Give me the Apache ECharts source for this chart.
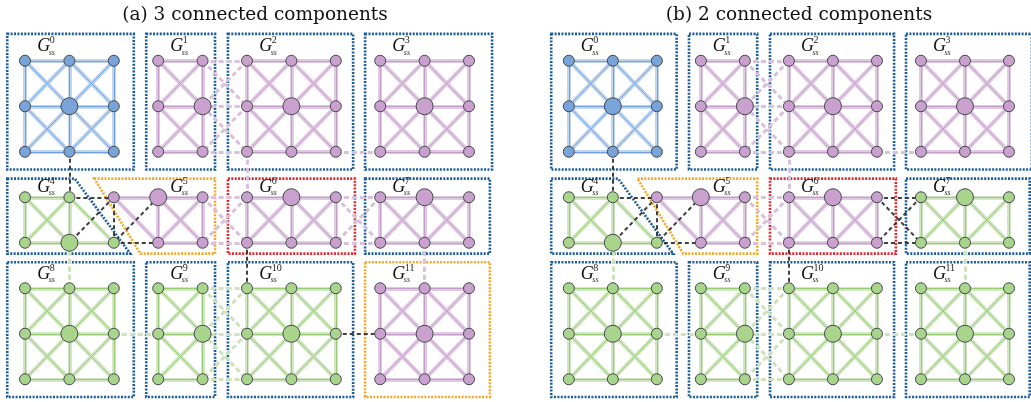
<!DOCTYPE html>
<html lang="en">
<head>
<meta charset="UTF-8">
<title>connected components</title>
<script src="https://cdn.jsdelivr.net/npm/echarts@6/dist/echarts.min.js"></script>
<style>
  html, body { margin: 0; padding: 0; background: #fff; }
  #box { width: 1031px; height: 402px; }
</style>
</head>
<body>
<div id="box"></div>
<script>
// panel titles
var titles = ['(a) 3 connected components', '(b) 2 connected components'];

// subgraph G_ss^k that each grid node belongs to (8 rows, 11 columns)
var membership = [
  [0, 0, 0, 1, 1, 2, 2, 2, 3, 3, 3],
  [0, 0, 0, 1, 1, 2, 2, 2, 3, 3, 3],
  [0, 0, 0, 1, 1, 2, 2, 2, 3, 3, 3],
  [4, 4, 5, 5, 5, 6, 6, 6, 7, 7, 7],
  [4, 4, 4, 5, 5, 6, 6, 6, 7, 7, 7],
  [8, 8, 8, 9, 9, 10, 10, 10, 11, 11, 11],
  [8, 8, 8, 9, 9, 10, 10, 10, 11, 11, 11],
  [8, 8, 8, 9, 9, 10, 10, 10, 11, 11, 11]
];

// colour group (connected component) of each subgraph, per panel
var componentsA = ['blue', 'purple', 'purple', 'purple', 'green', 'purple', 'purple', 'purple', 'green', 'green', 'green', 'purple'];
var componentsB = ['blue', 'purple', 'purple', 'purple', 'green', 'purple', 'purple', 'green', 'green', 'green', 'green', 'green'];

// frame colour of each subgraph box, per panel
var framesA = ['blue', 'blue', 'blue', 'blue', 'blue', 'orange', 'red', 'blue', 'blue', 'blue', 'blue', 'orange'];
var framesB = ['blue', 'blue', 'blue', 'blue', 'blue', 'orange', 'red', 'blue', 'blue', 'blue', 'blue', 'blue'];

// hub (large) node of each subgraph, [col, row]
var hubs = [[1, 1], [4, 1], [6, 1], [9, 1], [1, 4], [3, 3], [6, 3], [9, 3], [1, 6], [4, 6], [6, 6], [9, 6]];

// subgraph pairs linked along their whole border
var fullBridges = [[1, 2], [4, 5], [5, 6], [6, 7], [9, 10]];
// single links between subgraphs
var singleBridges = [
  [[7, 2], [8, 2]], [[2, 6], [3, 6]], [[7, 6], [8, 6]],
  [[1, 2], [1, 3]], [[5, 2], [5, 3]], [[1, 4], [1, 5]], [[5, 4], [5, 5]], [[9, 4], [9, 5]]
];

// label column / row of each subgraph
var labelCols = [0, 3, 5, 8, 0, 3, 5, 8, 0, 3, 5, 8];
var labelRows = [0, 0, 0, 0, 3, 3, 3, 3, 5, 5, 5, 5];

// ---- styles / layout ----
var palette = {
  blue:   { node: '#78a4d9', wide: '#c0d5ee', thin: '#74a2d8', dash: '#bcd0e8' },
  purple: { node: '#c9a0ce', wide: '#e0cae3', thin: '#c49dc9', dash: '#d9c0dc' },
  green:  { node: '#a8d48b', wide: '#d1e7c1', thin: '#96ca74', dash: '#cde2bd' }
};
var frameColor = { blue: '#1d5c99', orange: '#f4a82a', red: '#e4262f' };

var bandA = [-0.59, 2.39], bandB = [2.59, 4.24], bandC = [4.43, 7.39];
function rect(x0, x1, b) { return [[x0, b[0]], [x1, b[0]], [x1, b[1]], [x0, b[1]]]; }
var boxShapes = [
  rect(-0.4, 2.45, bandA), rect(2.73, 4.28, bandA), rect(4.57, 7.39, bandA), rect(7.66, 10.52, bandA),
  [[-0.4, bandB[0]], [1.12, bandB[0]], [2.37, bandB[1]], [-0.4, bandB[1]]],
  [[1.56, bandB[0]], [4.28, bandB[0]], [4.28, bandB[1]], [2.6, bandB[1]]],
  rect(4.57, 7.43, bandB), rect(7.66, 10.47, bandB),
  rect(-0.4, 2.45, bandC), rect(2.73, 4.28, bandC), rect(4.57, 7.39, bandC), rect(7.66, 10.47, bandC)
];

var COLS = 11, ROWS = 8;
var PANEL_SHIFT = 544;

function isHub(c, r) {
  return hubs.some(function (h) { return h[0] === c && h[1] === r; });
}

function buildPanel(p, comps, frames) {
  var nodes = [], bgNodes = [];
  for (var r = 0; r < ROWS; r++) {
    for (var c = 0; c < COLS; c++) {
      var col = palette[comps[membership[r][c]]];
      nodes.push({
        name: p + '-' + r + '-' + c,
        value: [c, r],
        symbolSize: isHub(c, r) ? 17 : 11,
        itemStyle: { color: col.node, borderColor: '#44484e', borderWidth: 1 }
      });
      bgNodes.push({ name: p + '-' + r + '-' + c, value: [c, r], symbolSize: 0 });
    }
  }
  function id(c, r) { return r * COLS + c; }

  var wideLinks = [], thinLinks = [];
  function addBridge(a, b) {
    var ca = comps[membership[a[1]][a[0]]], cb = comps[membership[b[1]][b[0]]];
    if (ca === cb) {
      wideLinks.push({ source: id(a[0], a[1]), target: id(b[0], b[1]),
        lineStyle: { color: palette[ca].dash, width: 3, type: [5, 3] } });
    } else {
      thinLinks.push({ source: id(a[0], a[1]), target: id(b[0], b[1]),
        lineStyle: { color: '#2a2a2a', width: 2, type: [4, 3], opacity: 0.9 } });
    }
  }
  var steps = [[1, 0], [0, 1], [1, 1], [-1, 1]];
  for (var r2 = 0; r2 < ROWS; r2++) {
    for (var c2 = 0; c2 < COLS; c2++) {
      steps.forEach(function (s) {
        var c3 = c2 + s[0], r3 = r2 + s[1];
        if (c3 < 0 || c3 >= COLS || r3 >= ROWS) return;
        var m1 = membership[r2][c2], m2 = membership[r3][c3];
        if (m1 === m2) {
          var col = palette[comps[m1]];
          wideLinks.push({ source: id(c2, r2), target: id(c3, r3), lineStyle: { color: col.wide, width: 4 } });
          thinLinks.push({ source: id(c2, r2), target: id(c3, r3), lineStyle: { color: col.thin, width: 1 } });
        } else {
          var joined = fullBridges.some(function (f) {
            return (f[0] === m1 && f[1] === m2) || (f[0] === m2 && f[1] === m1);
          });
          if (joined) addBridge([c2, r2], [c3, r3]);
        }
      });
    }
  }
  singleBridges.forEach(function (b) { addBridge(b[0], b[1]); });

  var series = [];
  series.push({
    type: 'custom', coordinateSystem: 'cartesian2d', xAxisIndex: p, yAxisIndex: p, z: 1,
    silent: true, clip: false,
    data: boxShapes.map(function (s, k) { return [k]; }),
    renderItem: function (params, api) {
      var k = api.value(0);
      var pts = boxShapes[k].map(function (q) { return api.coord(q); });
      return {
        type: 'polygon', shape: { points: pts },
        style: { fill: 'none', stroke: frameColor[frames[k]], lineWidth: 2.6, lineDash: [2, 1.4] }
      };
    }
  });
  series.push({
    type: 'graph', coordinateSystem: 'cartesian2d', xAxisIndex: p, yAxisIndex: p, z: 2,
    layout: 'none', silent: true, symbolSize: 0, data: bgNodes, links: wideLinks,
    label: { show: false }, lineStyle: { curveness: 0, opacity: 1 }
  });
  series.push({
    type: 'graph', coordinateSystem: 'cartesian2d', xAxisIndex: p, yAxisIndex: p, z: 3,
    layout: 'none', silent: true, data: nodes, links: thinLinks,
    label: { show: false }, lineStyle: { curveness: 0, opacity: 1 }
  });
  series.push({
    type: 'custom', coordinateSystem: 'cartesian2d', xAxisIndex: p, yAxisIndex: p, z: 4,
    silent: true, clip: false,
    data: labelCols.map(function (c, k) { return [c, labelRows[k], k]; }),
    renderItem: function (params, api) {
      var r = api.value(1), k = api.value(2);
      var dy = (r === 3) ? 0.22 : 0.31;
      var pt = api.coord([api.value(0) + 0.42, r - dy]);
      var serif = '"Liberation Serif", "DejaVu Serif", serif';
      return {
        type: 'group', children: [
          { type: 'text', x: pt[0], y: pt[1],
            style: { text: 'G', font: 'italic 18px ' + serif, fill: '#111', align: 'center', verticalAlign: 'middle' } },
          { type: 'text', x: pt[0] + 6, y: pt[1] - 6,
            style: { text: String(k), font: '10px ' + serif, fill: '#222', align: 'left', verticalAlign: 'middle' } },
          { type: 'text', x: pt[0] + 5, y: pt[1] + 6,
            style: { text: 'ss', font: 'italic 8px ' + serif, fill: '#333', align: 'left', verticalAlign: 'middle' } }
        ]
      };
    }
  });
  return series;
}

var chart = echarts.init(document.getElementById('box'));
var grids = [], xAxes = [], yAxes = [];
[0, 1].forEach(function (p) {
  grids.push({ left: 2.8 + p * PANEL_SHIFT, top: 38, width: 488.4, height: 368 });
  xAxes.push({ type: 'value', gridIndex: p, min: -0.5, max: 10.5, show: false });
  yAxes.push({ type: 'value', gridIndex: p, min: -0.5, max: 7.5, inverse: true, show: false });
});

var option = {
  backgroundColor: '#fff',
  animation: false,
  title: titles.map(function (t, p) {
    return {
      text: t, left: 250 + p * PANEL_SHIFT, top: 1, textAlign: 'center',
      textStyle: { fontFamily: 'DejaVu Serif', fontWeight: 'normal', fontSize: 18.5, color: '#111' }
    };
  }),
  grid: grids,
  xAxis: xAxes,
  yAxis: yAxes,
  series: buildPanel(0, componentsA, framesA).concat(buildPanel(1, componentsB, framesB))
};
chart.setOption(option);
</script>
</body>
</html>
